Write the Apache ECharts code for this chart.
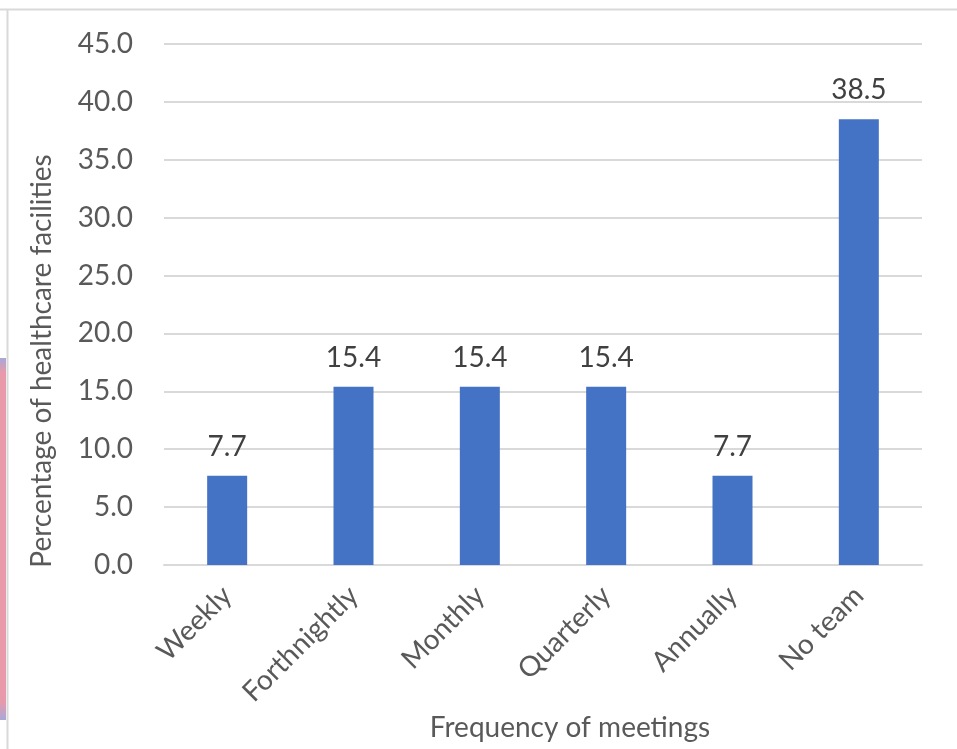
<!DOCTYPE html>
<html>
<head>
<meta charset="utf-8">
<title>Frequency of meetings</title>
<script src="https://cdn.jsdelivr.net/npm/echarts@6/dist/echarts.min.js"></script>
<style>
  html, body { margin: 0; padding: 0; background: #ffffff; }
  #chart { width: 957px; height: 749px; }
</style>
</head>
<body>
<div id="chart"></div>
<script>
// Meeting frequency categories and share of facilities (%)
const categories = ['Weekly', 'Forthnightly', 'Monthly', 'Quarterly', 'Annually', 'No team'];
const percentages = [7.7, 15.4, 15.4, 15.4, 7.7, 38.5];

// Value axis settings
const yMin = 0;
const yMax = 45;
const yStep = 5;

const xTitle = 'Frequency of meetings';
const yTitle = 'Percentage of healthcare facilities';

const FONT = 'Lato, "Liberation Sans", sans-serif';
const TEXT = '#595959';
const GRID = '#d9d9d9';

const chart = echarts.init(document.getElementById('chart'), null, { renderer: 'canvas' });

chart.setOption({
  animation: false,
  backgroundColor: '#ffffff',
  grid: { left: 164, right: 35, top: 44, bottom: 184, containLabel: false },
  xAxis: {
    type: 'category',
    data: categories,
    axisLine: { show: true, lineStyle: { color: GRID, width: 2 } },
    axisTick: { show: false },
    axisLabel: {
      rotate: 45,
      margin: 26,
      interval: 0,
      color: TEXT,
      fontFamily: FONT,
      fontSize: 28
    }
  },
  yAxis: {
    type: 'value',
    min: yMin,
    max: yMax,
    interval: yStep,
    axisLine: { show: false },
    axisTick: { show: false },
    splitLine: { lineStyle: { color: GRID, width: 2 } },
    axisLabel: {
      margin: 31,
      color: TEXT,
      fontFamily: FONT,
      fontSize: 28,
      formatter: v => v.toFixed(1)
    }
  },
  series: [{
    type: 'bar',
    data: percentages,
    barWidth: 40,
    itemStyle: { color: '#4472c4' },
    label: {
      show: true,
      position: 'top',
      distance: 15,
      color: '#404040',
      fontFamily: FONT,
      fontSize: 28,
      formatter: p => p.value.toFixed(1)
    }
  }],
  graphic: [
    // frame edges
    { type: 'line', shape: { x1: 0, y1: 9.5, x2: 957, y2: 9.5 }, style: { stroke: '#d9d9d9', lineWidth: 2 }, silent: true },
    { type: 'line', shape: { x1: 7.5, y1: 9, x2: 7.5, y2: 749 }, style: { stroke: '#d9d9d9', lineWidth: 2 }, silent: true },
    // coloured strip along the left edge
    {
      type: 'rect', shape: { x: 0, y: 358, width: 6, height: 362 }, silent: true,
      style: {
        fill: new echarts.graphic.LinearGradient(0, 0, 0, 1, [
          { offset: 0, color: '#a8a8d8' },
          { offset: 0.04, color: '#e89aab' },
          { offset: 0.95, color: '#e89aab' },
          { offset: 1, color: '#a8a8d8' }
        ])
      }
    },
    // axis titles
    {
      type: 'text', x: 570, y: 728, silent: true,
      style: { text: xTitle, fill: TEXT, font: '28px ' + FONT, align: 'center', verticalAlign: 'middle' }
    },
    {
      type: 'text', x: 42, y: 361, rotation: Math.PI / 2, silent: true,
      style: { text: yTitle, fill: TEXT, font: '28px ' + FONT, align: 'center', verticalAlign: 'middle' }
    }
  ]
});
</script>
</body>
</html>
